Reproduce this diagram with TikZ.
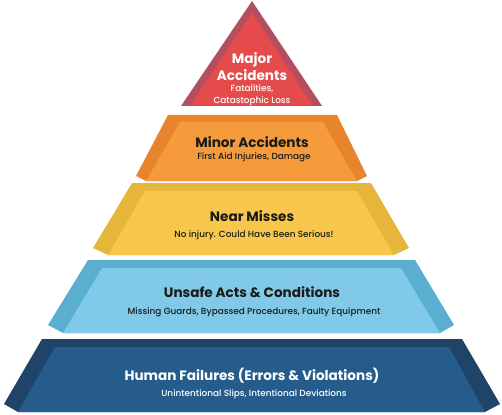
\documentclass[tikz,border=0pt]{standalone}
\usepackage{fontspec}
\setmainfont{Poppins}
\IfFontExistsTF{Poppins Medium}{\newfontfamily\subfont{Poppins Medium}}{\newfontfamily\subfont{Poppins}}
\definecolor{redband}{HTML}{B54E5F}
\definecolor{redface}{HTML}{E64B4B}
\definecolor{orband}{HTML}{E8842C}
\definecolor{orface}{HTML}{F59B3C}
\definecolor{yeband}{HTML}{E6B53C}
\definecolor{yeface}{HTML}{F6C74C}
\definecolor{lbband}{HTML}{5AAED0}
\definecolor{lbface}{HTML}{80C9E8}
\definecolor{dbband}{HTML}{1F4467}
\definecolor{dbface}{HTML}{255C8B}
\definecolor{ink}{HTML}{1A1A1A}
\begin{document}
\begin{tikzpicture}[x=1pt,y=-1pt,
  title/.style={font=\fontsize{13.6}{16}\selectfont\bfseries, inner sep=0pt},
  subtitle/.style={font=\fontsize{8.9}{10}\selectfont\subfont, inner sep=0pt},
  darktext/.style={text=ink},
  lighttext/.style={text=white}]
\useasboundingbox (0,0) rectangle (502,414);
% top triangle
\fill[redband] (252,1) -- (322,106) -- (181,106) -- cycle;
\fill[redface] (252,13) -- (313,106) -- (190,106) -- cycle;
% orange layer
\fill[orband] (168,115) -- (337,115) -- (367,176) -- (357,181) -- (146,181) -- (136,176) -- cycle;
\fill[orface] (180,122) -- (323,122) -- (357,181) -- (146,181) -- cycle;
% yellow layer
\fill[yeband] (132,183) -- (371,183) -- (409,248) -- (394,255) -- (108,255) -- (93,248) -- cycle;
\fill[yeface] (145,191) -- (357,191) -- (394,255) -- (108,255) -- cycle;
% light blue layer
\fill[lbband] (88,260) -- (415,260) -- (454,325) -- (440,333) -- (63,333) -- (48,325) -- cycle;
\fill[lbface] (102,268) -- (401,268) -- (440,333) -- (63,333) -- cycle;
% dark blue layer
\fill[dbband] (42,339) -- (462,339) -- (500,404) -- (485,412) -- (18,412) -- (4,404) -- cycle;
\fill[dbface] (55,347) -- (449,347) -- (485,412) -- (18,412) -- cycle;
% texts
\node[title,lighttext] (t1a) at (252,60) {Major};
\node[title,lighttext] (t1b) at (252,75) {Accidents};
\node[subtitle,lighttext] (s1a) at (252,89) {Fatalities,};
\node[subtitle,lighttext] (s1b) at (252,101) {Catastophic Loss};
\node[title,darktext] (t2) at (252,142) {Minor Accidents};
\node[subtitle,darktext] (s2) at (254,157) {First Aid Injuries, Damage};
\node[title,darktext] (t3) at (252,216) {Near Misses};
\node[subtitle,darktext] (s3) at (254,235) {No injury. Could Have Been Serious!};
\node[title,darktext] (t4) at (252,292) {Unsafe Acts \& Conditions};
\node[subtitle,darktext] (s4) at (254,312) {Missing Guards, Bypassed Procedures, Faulty Equipment};
\node[title,lighttext] (t5) at (252,376) {Human Failures (Errors \& Violations)};
\node[subtitle,lighttext] (s5) at (254,394) {Unintentional Slips, Intentional Deviations};
\end{tikzpicture}
\end{document}
